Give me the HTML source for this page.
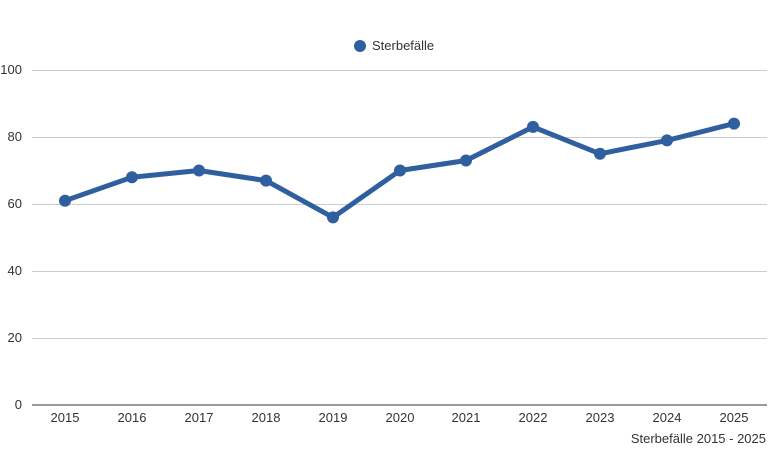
<!DOCTYPE html>
<html><head><meta charset="utf-8"><style>
html,body{margin:0;padding:0;background:#fff;}
svg{display:block;font-family:"Liberation Sans",sans-serif;}
</style></head><body>
<svg width="780" height="475" viewBox="0 0 780 475">
<g stroke="#cccccc" stroke-width="1">
<line x1="32" x2="767" y1="70.5" y2="70.5"/>
<line x1="32" x2="767" y1="137.5" y2="137.5"/>
<line x1="32" x2="767" y1="204.5" y2="204.5"/>
<line x1="32" x2="767" y1="271.5" y2="271.5"/>
<line x1="32" x2="767" y1="338.5" y2="338.5"/>
</g>
<line x1="32" x2="767" y1="405" y2="405" stroke="#999" stroke-width="2"/>
<g font-size="13" fill="#333" text-anchor="end">
<text x="22" y="74">100</text><text x="22" y="141">80</text><text x="22" y="208">60</text>
<text x="22" y="275">40</text><text x="22" y="342">20</text><text x="22" y="409">0</text>
</g>
<g font-size="13" fill="#333" text-anchor="middle">
<text x="65" y="422">2015</text><text x="132" y="422">2016</text><text x="199" y="422">2017</text>
<text x="266" y="422">2018</text><text x="333" y="422">2019</text><text x="400" y="422">2020</text>
<text x="466" y="422">2021</text><text x="533" y="422">2022</text><text x="600" y="422">2023</text>
<text x="667" y="422">2024</text><text x="734" y="422">2025</text>
</g>
<polyline fill="none" stroke="#2f5f9e" stroke-width="5" stroke-linejoin="round" points="65,200.7 132,177.2 199,170.5 266,180.6 333,217.4 400,170.5 466,160.5 533,126.9 600,153.8 667,140.4 734,123.6"/>
<g fill="#2f5f9e">
<circle cx="65" cy="200.7" r="6"/><circle cx="132" cy="177.2" r="6"/><circle cx="199" cy="170.5" r="6"/>
<circle cx="266" cy="180.6" r="6"/><circle cx="333" cy="217.4" r="6"/><circle cx="400" cy="170.5" r="6"/>
<circle cx="466" cy="160.5" r="6"/><circle cx="533" cy="126.9" r="6"/><circle cx="600" cy="153.8" r="6"/>
<circle cx="667" cy="140.4" r="6"/><circle cx="734" cy="123.6" r="6"/>
<circle cx="360" cy="46" r="6"/>
</g>
<text x="372" y="50" font-size="13" fill="#333">Sterbefälle</text>
<text x="766" y="443" font-size="13" fill="#333" text-anchor="end">Sterbefälle 2015 - 2025</text>
</svg>
</body></html>
